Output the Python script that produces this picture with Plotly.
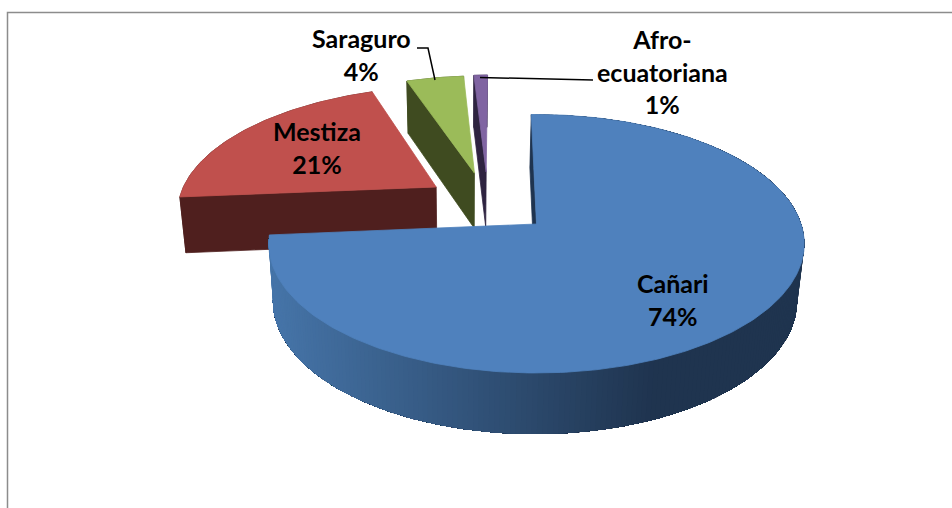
"""Exploded 3D pie of ethnic self-identification, drawn as projected polygons."""
from __future__ import annotations

import numpy as np
import plotly.graph_objects as go

categories = ["Cañari", "Mestiza", "Saraguro", "Afro-ecuatoriana"]
display_names = ["Cañari", "Mestiza", "Saraguro", "Afro-<br>ecuatoriana"]
values = [74.0, 20.8, 4.2, 1.0]

top_colors = ["#4f81bd", "#c0504d", "#9bbb59", "#8064a2"]
wall_colors = ["#1f344f", "#4f1f1e", "#3f4b20", "#2e2340"]

# style of the chart: explosion of each slice on the disk, label centres in px
PULL = [(0.0, 0.0), (-0.397, -0.307), (-0.25, -0.43), (-0.203, -0.44)]
LABEL_POS = [(673, 299), (317, 147), (361, 54.5), (662, 71.5)]
START_DEG = -1.3
PERSPECTIVE = 0.1528
TOP_FACE = {"cx": 536.5, "cy": 224.0, "rx": 264.6, "ry": 126.2}
BOTTOM_FACE = {"cx": 535.0, "cy": 280.6, "rx": 259.0, "ry": 130.0}
GRADIENT_LIGHT = np.array([0x46, 0x75, 0xa9])
GRADIENT_DARK = np.array([0x1f, 0x34, 0x4f])


def project(u, v, face):
    w = 1 - PERSPECTIVE * v
    return face["cx"] + face["rx"] * u / w, face["cy"] + face["ry"] * v / w


def rim_shade(x):
    t = float(np.clip((x - 273) / (650 - 273), 0, 1))
    r, g, b = (1 - t) * GRADIENT_LIGHT + t * GRADIENT_DARK
    return f"rgb({r:.0f},{g:.0f},{b:.0f})"


def add_polygon(fig, xs, ys, color, edge=0.8):
    fig.add_trace(
        go.Scatter(
            x=list(xs) + [xs[0]], y=list(ys) + [ys[0]], mode="lines", fill="toself",
            fillcolor=color, line={"color": color, "width": edge},
            showlegend=False, hoverinfo="skip",
        )
    )


fig = go.Figure()

total = sum(values)
edges = START_DEG + np.cumsum([0] + values) / total * 360.0

# painter's order: the back slices first, the big front slice last
for i in reversed(range(len(values))):
    du, dv = PULL[i]
    theta = np.radians(np.linspace(edges[i], edges[i + 1], max(4, int(values[i] * 3.6))))
    u = du + np.sin(theta)
    v = dv - np.cos(theta)
    tx, ty = project(u, v, TOP_FACE)
    bx, by = project(u, v, BOTTOM_FACE)
    ax_t, ay_t = project(du, dv, TOP_FACE)
    ax_b, ay_b = project(du, dv, BOTTOM_FACE)

    if i == 0:
        # each band runs to the end of the rim and the next one covers it, so no seams
        for k in range(len(theta) - 1):
            add_polygon(
                fig, [*tx[k:], *bx[k:][::-1]], [*ty[k:], *by[k:][::-1]],
                rim_shade((bx[k] + bx[k + 1]) / 2), edge=0,
            )
    else:
        add_polygon(fig, [*tx, *bx[::-1]], [*ty, *by[::-1]], wall_colors[i])

    # cut face at the start of the sweep, the other one is hidden by the top
    add_polygon(fig, [ax_t, tx[0], bx[0], ax_b], [ay_t, ty[0], by[0], ay_b], wall_colors[i])

    add_polygon(fig, [ax_t, *tx], [ay_t, *ty], top_colors[i])

# chart frame, cropped by the window on the right and at the bottom
fig.add_trace(
    go.Scatter(
        x=[7.5, 7.5, 952], y=[508, 12.5, 12.5], mode="lines",
        line={"color": "#8c8c8c", "width": 1.5}, showlegend=False, hoverinfo="skip",
    )
)

# leader lines
for lx, ly in (([417, 428, 435], [48, 48, 80]), ([480, 593], [77.5, 80])):
    fig.add_trace(
        go.Scatter(
            x=lx, y=ly, mode="lines", line={"color": "#000000", "width": 1.5},
            showlegend=False, hoverinfo="skip",
        )
    )

for name, value, (lx, ly) in zip(display_names, values, LABEL_POS):
    fig.add_annotation(
        x=lx, y=ly, xref="x", yref="y", text=f"<b>{name}<br>{value / total:.0%}</b>",
        showarrow=False, align="center", font={"family": "Lato", "size": 25, "color": "#000000"},
    )

fig.update_layout(
    width=952, height=508, margin={"l": 0, "r": 0, "t": 0, "b": 0},
    paper_bgcolor="#ffffff", plot_bgcolor="#ffffff", showlegend=False,
    xaxis={"visible": False, "range": [0, 952]},
    yaxis={"visible": False, "range": [508, 0]},
)
# the page's default body margin would push the figure 8px off
fig.write_html(
    "out.html", config={"displayModeBar": False},
    post_script="document.body.style.margin = '0';",
)
